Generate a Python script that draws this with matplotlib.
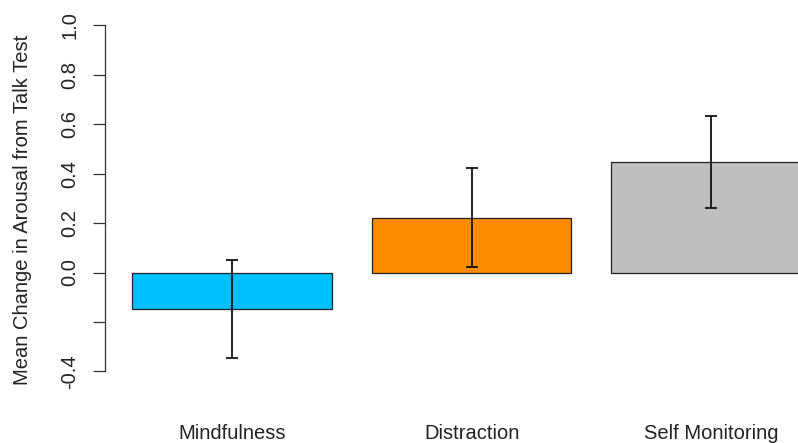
import matplotlib
matplotlib.use("Agg")
import matplotlib.pyplot as plt

plt.rcParams['font.family'] = ['Liberation Sans', 'DejaVu Sans']

categories = ["Mindfulness", "Distraction", "Self Monitoring"]
means = [-0.147, 0.219, 0.447]
ci_low = [-0.344, 0.023, 0.262]
ci_high = [0.049, 0.421, 0.632]
colors = ["#00BFFF", "#FF8C00", "#BEBEBE"]
ytick_vals = [-0.4, -0.2, 0.0, 0.2, 0.4, 0.6, 0.8, 1.0]
ytick_labels = ["-0.4", "", "0.0", "0.2", "0.4", "0.6", "0.8", "1.0"]

W, H = 798, 443
fig = plt.figure(figsize=(W / 100, H / 100), dpi=100)
ax = fig.add_axes([105 / W, 0, 1 - 105 / W, 1])

# R-style bar positions: width 1, space 0.2
centers = [0.7 + 1.2 * i for i in range(len(categories))]
ax.bar(centers, means, width=1.0, color=colors, edgecolor="#222222", linewidth=0.9, zorder=2)

for c, lo, hi in zip(centers, ci_low, ci_high):
    ax.plot([c, c], [lo, hi], color="#111111", lw=1.3, zorder=3, solid_capstyle="butt")
    for v in (lo, hi):
        ax.plot([c - 0.03, c + 0.03], [v, v], color="#111111", lw=1.3, zorder=3, solid_capstyle="butt")

ax.set_xlim(0.063, 3.535)
ax.set_ylim(-0.6895, 1.1025)

for side in ("top", "right", "bottom"):
    ax.spines[side].set_visible(False)
ax.spines["left"].set_bounds(-0.4, 1.0)
ax.spines["left"].set_color("#333333")
ax.spines["left"].set_linewidth(0.9)

ax.set_xticks([])
ax.set_yticks(ytick_vals)
ax.set_yticklabels(ytick_labels, rotation=90, va="center", fontsize=14.5, color="#222222")
ax.tick_params(axis="y", length=8.6, width=0.9, color="#333333", pad=10)

for c, name in zip(centers, categories):
    ax.text(c, -0.653, name, ha="center", va="center", fontsize=14.5, color="#222222")

fig.text(23 / W, 1 - 210 / H, "Mean Change in Arousal from Talk Test", rotation=90,
         ha="center", va="center", fontsize=14.5, color="#222222")

fig.savefig("out.png", dpi=100, facecolor="white")
